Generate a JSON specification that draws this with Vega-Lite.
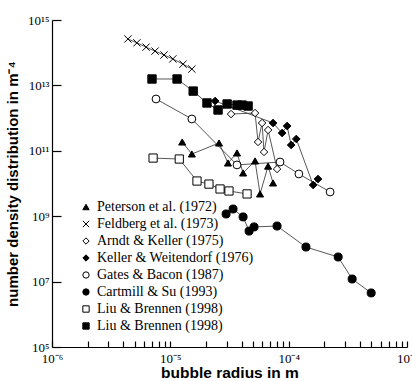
{
  "$schema": "https://vega.github.io/schema/vega-lite/v6.json",
  "width": 355,
  "height": 327,
  "autosize": {"type": "none"},
  "padding": {"left": 52, "top": 20, "right": 5, "bottom": 34},
  "background": "white",
  "config": {"view": {"stroke": null}, "axis": {"ticks": true, "tickOpacity": 1, "tickColor": "black", "tickWidth": 1.2}},
  "data": {"values": [
    {"s": "Peterson et al. (1972)", "x": 1.26e-5, "y": 1.86e11},
    {"s": "Peterson et al. (1972)", "x": 1.52e-5, "y": 8.0e10},
    {"s": "Peterson et al. (1972)", "x": 2.58e-5, "y": 1.73e11},
    {"s": "Peterson et al. (1972)", "x": 3.07e-5, "y": 4.24e10},
    {"s": "Peterson et al. (1972)", "x": 3.66e-5, "y": 8.6e10},
    {"s": "Peterson et al. (1972)", "x": 4.12e-5, "y": 2.1e10},
    {"s": "Peterson et al. (1972)", "x": 5.20e-5, "y": 4.9e10},
    {"s": "Peterson et al. (1972)", "x": 5.73e-5, "y": 4.8e9},
    {"s": "Peterson et al. (1972)", "x": 6.70e-5, "y": 3.4e10},
    {"s": "Peterson et al. (1972)", "x": 7.38e-5, "y": 1.04e10},
    {"s": "Feldberg et al. (1973)", "x": 4.38e-6, "y": 2.63e14},
    {"s": "Feldberg et al. (1973)", "x": 5.22e-6, "y": 2.0e14},
    {"s": "Feldberg et al. (1973)", "x": 6.24e-6, "y": 1.48e14},
    {"s": "Feldberg et al. (1973)", "x": 7.43e-6, "y": 1.12e14},
    {"s": "Feldberg et al. (1973)", "x": 8.85e-6, "y": 8.5e13},
    {"s": "Feldberg et al. (1973)", "x": 1.05e-5, "y": 6.46e13},
    {"s": "Feldberg et al. (1973)", "x": 1.28e-5, "y": 4.47e13},
    {"s": "Feldberg et al. (1973)", "x": 1.52e-5, "y": 3.16e13},
    {"s": "Arndt & Keller (1975)", "x": 3.26e-5, "y": 1.33e12},
    {"s": "Arndt & Keller (1975)", "x": 5.20e-5, "y": 1.43e12},
    {"s": "Arndt & Keller (1975)", "x": 5.51e-5, "y": 1.86e11},
    {"s": "Arndt & Keller (1975)", "x": 5.96e-5, "y": 7.08e11},
    {"s": "Arndt & Keller (1975)", "x": 6.19e-5, "y": 9.2e10},
    {"s": "Arndt & Keller (1975)", "x": 6.70e-5, "y": 4.33e11},
    {"s": "Arndt & Keller (1975)", "x": 7.98e-5, "y": 2.77e10},
    {"s": "Keller & Weitendorf (1976)", "x": 2.39e-5, "y": 3.33e12},
    {"s": "Keller & Weitendorf (1976)", "x": 7.38e-5, "y": 7.08e11},
    {"s": "Keller & Weitendorf (1976)", "x": 8.80e-5, "y": 3.50e11},
    {"s": "Keller & Weitendorf (1976)", "x": 9.70e-5, "y": 5.73e11},
    {"s": "Keller & Weitendorf (1976)", "x": 1.05e-4, "y": 1.50e11},
    {"s": "Keller & Weitendorf (1976)", "x": 1.16e-4, "y": 2.30e11},
    {"s": "Keller & Weitendorf (1976)", "x": 1.61e-4, "y": 9.0e9},
    {"s": "Keller & Weitendorf (1976)", "x": 1.77e-4, "y": 1.37e10},
    {"s": "Gates & Bacon (1987)", "x": 7.57e-6, "y": 3.84e12},
    {"s": "Gates & Bacon (1987)", "x": 1.52e-5, "y": 9.4e11},
    {"s": "Gates & Bacon (1987)", "x": 3.66e-5, "y": 3.7e10},
    {"s": "Gates & Bacon (1987)", "x": 8.46e-5, "y": 4.54e10},
    {"s": "Gates & Bacon (1987)", "x": 1.22e-4, "y": 1.96e10},
    {"s": "Gates & Bacon (1987)", "x": 2.24e-4, "y": 5.5e9},
    {"s": "Cartmill & Su (1993)", "x": 2.96e-5, "y": 1.17e9},
    {"s": "Cartmill & Su (1993)", "x": 3.39e-5, "y": 1.66e9},
    {"s": "Cartmill & Su (1993)", "x": 4.12e-5, "y": 9.5e8},
    {"s": "Cartmill & Su (1993)", "x": 4.63e-5, "y": 3.5e8},
    {"s": "Cartmill & Su (1993)", "x": 5.10e-5, "y": 4.7e8},
    {"s": "Cartmill & Su (1993)", "x": 7.98e-5, "y": 5.0e8},
    {"s": "Cartmill & Su (1993)", "x": 1.40e-4, "y": 1.14e8},
    {"s": "Cartmill & Su (1993)", "x": 2.62e-4, "y": 5.65e7},
    {"s": "Cartmill & Su (1993)", "x": 3.44e-4, "y": 1.2e7},
    {"s": "Cartmill & Su (1993)", "x": 4.98e-4, "y": 4.5e6},
    {"s": "Liu & Brennen (1998)", "x": 7.15e-6, "y": 6.0e10},
    {"s": "Liu & Brennen (1998)", "x": 1.19e-5, "y": 5.6e10},
    {"s": "Liu & Brennen (1998)", "x": 1.68e-5, "y": 1.19e10},
    {"s": "Liu & Brennen (1998)", "x": 2.12e-5, "y": 9.6e9},
    {"s": "Liu & Brennen (1998)", "x": 2.63e-5, "y": 6.8e9},
    {"s": "Liu & Brennen (1998)", "x": 3.13e-5, "y": 5.9e9},
    {"s": "Liu & Brennen (1998)", "x": 4.45e-5, "y": 4.8e9},
    {"s": "Liu & Brennen (1998)*", "x": 7.0e-6, "y": 1.57e13},
    {"s": "Liu & Brennen (1998)*", "x": 1.14e-5, "y": 1.57e13},
    {"s": "Liu & Brennen (1998)*", "x": 1.56e-5, "y": 6.7e12},
    {"s": "Liu & Brennen (1998)*", "x": 2.04e-5, "y": 2.9e12},
    {"s": "Liu & Brennen (1998)*", "x": 2.53e-5, "y": 1.77e12},
    {"s": "Liu & Brennen (1998)*", "x": 3.02e-5, "y": 2.7e12},
    {"s": "Liu & Brennen (1998)*", "x": 3.66e-5, "y": 2.5e12},
    {"s": "Liu & Brennen (1998)*", "x": 4.04e-5, "y": 2.5e12},
    {"s": "Liu & Brennen (1998)*", "x": 4.54e-5, "y": 2.34e12}
  ]},
  "encoding": {
    "x": {
      "field": "x", "type": "quantitative",
      "scale": {"type": "log", "domain": [1e-6, 1e-3], "nice": false},
      "axis": {
        "title": "bubble radius in m",
        "values": [1e-6, 2e-6, 3e-6, 4e-6, 5e-6, 6e-6, 7e-6, 8e-6, 9e-6, 1e-5, 2e-5, 3e-5, 4e-5, 5e-5, 6e-5, 7e-5, 8e-5, 9e-5, 1e-4, 2e-4, 3e-4, 4e-4, 5e-4, 6e-4, 7e-4, 8e-4, 9e-4, 1e-3],
        "grid": false,
        "domainColor": "black", "domainWidth": 1.2,
        "ticks": true, "tickColor": "black", "tickWidth": 1.2, "tickSize": -6,
        "labelExpr": "abs(log(datum.value)/LN10 - round(log(datum.value)/LN10)) < 0.001 ? ['10⁻⁶','10⁻⁵','10⁻⁴','10⁻³'][round(log(datum.value)/LN10)+6] : ''",
        "labelFont": "Liberation Serif", "labelFontSize": 13, "labelColor": "black",
        "labelPadding": 11, "labelFlush": false, "labelOverlap": false,
        "titleFont": "Liberation Sans", "titleFontSize": 15.5, "titleFontWeight": "bold", "titleColor": "black",
        "titleX": 177.5, "titleY": 25, "titleBaseline": "middle"
      }
    },
    "y": {
      "field": "y", "type": "quantitative",
      "scale": {"type": "log", "domain": [1e5, 1e15], "nice": false},
      "axis": {
        "title": "number density distribution in m⁻⁴",
        "values": [1e5, 1e7, 1e9, 1e11, 1e13, 1e15],
        "grid": false,
        "domainColor": "black", "domainWidth": 1.2,
        "ticks": true, "tickColor": "black", "tickWidth": 1.2, "tickSize": -9,
        "labelExpr": "['10⁵','10⁷','10⁹','10¹¹','10¹³','10¹⁵'][round((log(datum.value)/LN10-5)/2)]",
        "labelFont": "Liberation Serif", "labelFontSize": 13, "labelColor": "black",
        "labelPadding": 12, "labelFlush": false, "labelOverlap": false,
        "titleFont": "Liberation Sans", "titleFontSize": 15, "titleFontWeight": "bold", "titleColor": "black",
        "titleX": -40, "titleY": 163.5, "titleBaseline": "middle", "titleAngle": -90
      }
    }
  },
  "layer": [
    {
      "mark": {"type": "line", "color": "#444444", "strokeWidth": 0.9},
      "encoding": {"detail": {"field": "s"}}
    },
    {
      "mark": {"type": "point", "filled": true, "opacity": 1, "strokeOpacity": 1},
      "encoding": {
        "shape": {
          "field": "s", "type": "nominal",
          "scale": {
            "domain": ["Peterson et al. (1972)", "Feldberg et al. (1973)", "Arndt & Keller (1975)", "Keller & Weitendorf (1976)", "Gates & Bacon (1987)", "Cartmill & Su (1993)", "Liu & Brennen (1998)", "Liu & Brennen (1998)*"],
            "range": ["triangle-up", "M-1,-1L1,1M1,-1L-1,1", "diamond", "diamond", "circle", "circle", "square", "square"]
          },
          "legend": {
            "orient": "none", "legendX": 27, "legendY": 180, "title": null,
            "labelFont": "Liberation Serif", "labelFontSize": 14, "labelColor": "black",
            "symbolSize": 40, "symbolStrokeWidth": 1,
            "rowPadding": 3, "padding": 0, "labelOffset": 4,
            "labelExpr": "replace(datum.label, '*', '')"
          }
        },
        "fill": {
          "field": "s", "type": "nominal",
          "scale": {
            "domain": ["Peterson et al. (1972)", "Feldberg et al. (1973)", "Arndt & Keller (1975)", "Keller & Weitendorf (1976)", "Gates & Bacon (1987)", "Cartmill & Su (1993)", "Liu & Brennen (1998)", "Liu & Brennen (1998)*"],
            "range": ["black", "white", "white", "black", "white", "black", "white", "black"]
          }
        },
        "stroke": {
          "field": "s", "type": "nominal",
          "scale": {
            "domain": ["Peterson et al. (1972)", "Feldberg et al. (1973)", "Arndt & Keller (1975)", "Keller & Weitendorf (1976)", "Gates & Bacon (1987)", "Cartmill & Su (1993)", "Liu & Brennen (1998)", "Liu & Brennen (1998)*"],
            "range": ["black", "black", "black", "black", "black", "black", "black", "black"]
          }
        },
        "size": {
          "field": "s", "type": "nominal", "legend": null,
          "scale": {
            "domain": ["Liu & Brennen (1998)*", "Liu & Brennen (1998)", "Cartmill & Su (1993)", "Gates & Bacon (1987)", "Keller & Weitendorf (1976)", "Arndt & Keller (1975)", "Feldberg et al. (1973)", "Peterson et al. (1972)"],
            "range": [70, 50, 95, 85, 65, 65, 45, 45]
          }
        },
        "strokeWidth": {
          "field": "s", "type": "nominal", "legend": null,
          "scale": {
            "domain": ["Feldberg et al. (1973)", "Peterson et al. (1972)", "Arndt & Keller (1975)", "Keller & Weitendorf (1976)", "Gates & Bacon (1987)", "Cartmill & Su (1993)", "Liu & Brennen (1998)", "Liu & Brennen (1998)*"],
            "range": [1, 1, 1, 1, 1, 1, 1.8, 1]
          }
        }
      }
    }
  ]
}
